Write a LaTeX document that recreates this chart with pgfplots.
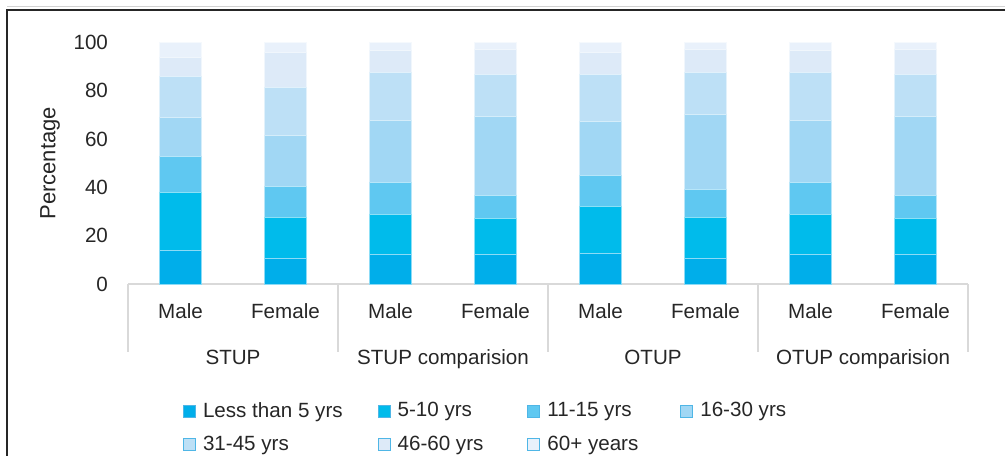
\documentclass[border=0pt]{standalone}
\usepackage{fontspec}
\setmainfont{Liberation Sans}
\usepackage{pgfplots}
\usepackage{pgfplotstable}
\pgfplotsset{compat=1.18}
\definecolor{cA}{HTML}{00AEEA}
\definecolor{cB}{HTML}{00BBEB}
\definecolor{cC}{HTML}{5FC8F1}
\definecolor{cD}{HTML}{A1D7F4}
\definecolor{cE}{HTML}{BDE0F6}
\definecolor{cF}{HTML}{DDEAF8}
\definecolor{cG}{HTML}{E9F1FB}
\definecolor{txt}{HTML}{262626}
\definecolor{legb}{HTML}{4FB6E6}
\pgfplotstableread{
x  a     b     c     d     e     f     g
0  14.0  23.9  14.9  16.1  16.8  8.2   6.1
1  10.7  16.8  12.9  20.9  20.0  14.4  4.3
2  12.4  16.4  13.2  25.8  19.7  9.1   3.4
3  12.4  14.7  9.7   32.5  17.2  10.7  2.8
4  12.8  19.3  12.8  22.3  19.4  9.1   4.3
5  10.7  16.8  11.6  31.0  17.4  9.6   2.9
6  12.4  16.4  13.2  25.8  19.7  9.1   3.4
7  12.4  14.7  9.7   32.5  17.2  10.7  2.8
}\datatable
\begin{document}
\begin{tikzpicture}[x=1pt,y=1pt]
\useasboundingbox (0,0) rectangle (502.5,227.5);
\draw[gray!35, line width=0.4pt] (3.5,224.2) -- (503,224.2);
\draw[black!85, line width=0.9pt] (3.5,-1) -- (3.5,222.6) -- (503,222.6);
\begin{axis}[
  at={(64pt,85.35pt)}, anchor=south west,
  scale only axis, width=420pt, height=121pt,
  ybar stacked, bar width=21pt,
  xmin=-0.5, xmax=7.5, ymin=0, ymax=100,
  xtick={0,...,7},
  xticklabels={Male,Female,Male,Female,Male,Female,Male,Female},
  ytick={0,20,...,100},
  axis x line*=bottom, axis y line*=left,
  x axis line style={draw=black!15, line width=1pt, -},
  y axis line style={draw=none},
  major tick length=0pt,
  xtick style={draw=none}, ytick style={draw=none},
  /pgf/number format/assume math mode=true,
  tick label style={font=\fontsize{10.3}{12}\selectfont, text=txt},
  xticklabel style={anchor=base, yshift=-17pt},
  yticklabel style={xshift=-6.5pt},
  ylabel={Percentage},
  ylabel style={at={(axis description cs:-0.0929,0.5)}, anchor=center,
     font=\fontsize{11}{13}\selectfont, text=txt},
  clip=false,
  legend columns=4,
  legend cell align=left,
  legend style={at={(rel axis cs:0.058,-0.452)}, anchor=north west, draw=none,
     fill=none, font=\fontsize{10.3}{12}\selectfont, text=txt, row sep=4pt,
     /tikz/column 2/.style={column sep=15.5pt},
     /tikz/column 4/.style={column sep=20pt},
     /tikz/column 6/.style={column sep=19pt}},
  legend image code/.code={\draw[#1, draw=legb, line width=0.4pt] (0pt,-3pt) rectangle (6pt,3pt); \path (7.5pt,0pt);},
  every axis plot/.append style={line width=0.5pt},
]
\addplot[fill=cA, draw=white!55!cA] table[x=x,y=a]{\datatable};
\addplot[fill=cB, draw=white!55!cB] table[x=x,y=b]{\datatable};
\addplot[fill=cC, draw=white!55!cC] table[x=x,y=c]{\datatable};
\addplot[fill=cD, draw=white!55!cD] table[x=x,y=d]{\datatable};
\addplot[fill=cE, draw=white!55!cE] table[x=x,y=e]{\datatable};
\addplot[fill=cF, draw=white!55!cF] table[x=x,y=f]{\datatable};
\addplot[fill=cG, draw=white!55!cG] table[x=x,y=g]{\datatable};
\legend{Less than 5 yrs,5-10 yrs,11-15 yrs,16-30 yrs,31-45 yrs,46-60 yrs,60+ years}
\foreach \p in {-0.5,1.5,3.5,5.5,7.5}{
  \edef\tmp{\noexpand\draw[black!15, line width=1pt] (axis cs:\p,0) -- ++(0pt,-34pt);}
  \tmp
}
\foreach \p/\t in {0.5/STUP,2.5/STUP comparision,4.5/OTUP,6.5/OTUP comparision}{
  \edef\tmp{\noexpand\node[anchor=base, text=txt, font=\noexpand\fontsize{10.3}{12}\noexpand\selectfont] at (axis cs:\p,0) [yshift=-40pt] {\t};}
  \tmp
}
\end{axis}
\end{tikzpicture}
\end{document}
